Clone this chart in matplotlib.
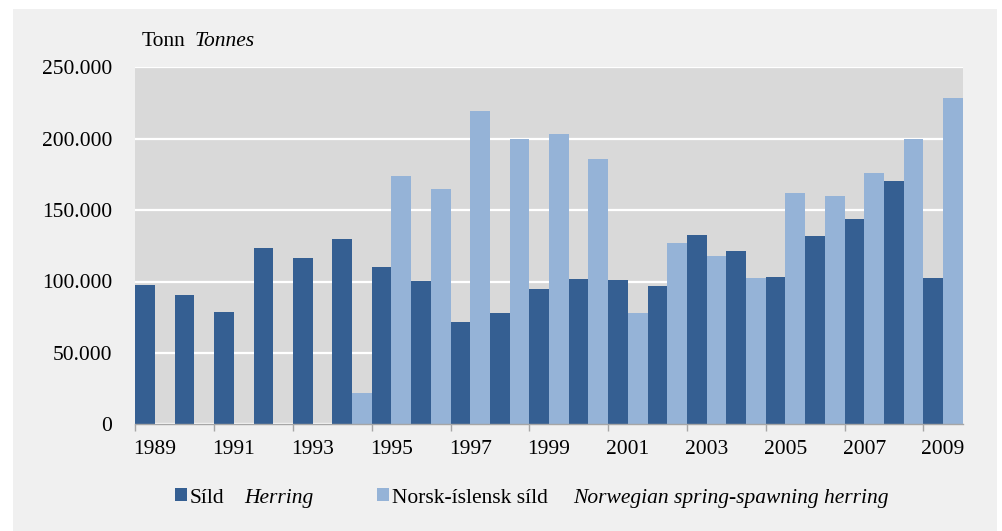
import matplotlib
matplotlib.use("Agg")
import matplotlib.pyplot as plt
import numpy as np
from matplotlib.patches import Rectangle, Patch
from matplotlib.ticker import FuncFormatter, FixedLocator

years = list(range(1989, 2010))
sild = [97.6, 90.6, 78.4, 123.2, 116.7, 130.0, 110.4, 100.6, 71.4, 77.7, 95.0,
        101.8, 101.3, 96.9, 132.3, 121.6, 102.9, 131.6, 144.0, 170.6, 102.2]
norsk = [0, 0, 0, 0, 0, 21.7, 173.9, 164.8, 219.6, 199.8, 203.3,
         185.8, 78.2, 127.2, 118.1, 102.7, 161.8, 159.7, 175.8, 199.8, 228.7]
sild = [v * 1000 for v in sild]
norsk = [v * 1000 for v in norsk]
yticks = [0, 50000, 100000, 150000, 200000, 250000]

DARK = "#355f92"
LIGHT = "#95b3d7"
PLOTBG = "#d9d9d9"
OUTBG = "#f0f0f0"
FONT = "Liberation Serif"
FS = 15.5

plt.rcParams['font.family'] = [FONT, 'DejaVu Serif']

W, H = 1002, 531
fig = plt.figure(figsize=(W / 100, H / 100), dpi=100)
fig.patch.set_facecolor("white")
fig.add_artist(Rectangle((13 / W, 0), (997 - 13) / W, (H - 9) / H,
                         transform=fig.transFigure, facecolor=OUTBG,
                         edgecolor="none", zorder=-10))

def px(x, y):
    return x / W, 1 - y / H

l, t = px(135.3, 67.3)
r, b = px(962.7, 424.3)
ax = fig.add_axes([l, b, r - l, t - b])
ax.set_facecolor(PLOTBG)

x = np.arange(len(years))
ax.bar(x, sild, width=0.5, align="edge", color=DARK, zorder=3, linewidth=0)
ax.bar(x + 0.5, norsk, width=0.5, align="edge", color=LIGHT, zorder=3, linewidth=0)

ax.set_xlim(0, len(years))
ax.set_ylim(0, 250000)
ax.set_yticks(yticks)
ax.yaxis.set_major_formatter(FuncFormatter(lambda v, p: "0" if v == 0 else f"{int(v):,}".replace(",", ".")))
ax.grid(axis="y", color="white", linewidth=1.6, zorder=1)
ax.set_axisbelow(True)

lab_idx = [i for i in range(len(years)) if i % 2 == 0]
ax.set_xticks([i + 0.5 for i in lab_idx])
ax.set_xticklabels([str(years[i]) for i in lab_idx])
ax.xaxis.set_minor_locator(FixedLocator([i for i in range(0, len(years) + 1, 2)]))
ax.tick_params(axis="x", which="major", length=0, pad=11, labelsize=FS)
ax.tick_params(axis="x", which="minor", length=5, color="#a6a6a6", width=1)
ax.tick_params(axis="y", length=0, pad=16.5, labelsize=FS)

for s in ["top", "right", "left"]:
    ax.spines[s].set_visible(False)
ax.spines["bottom"].set_color("#a6a6a6")
ax.spines["bottom"].set_linewidth(1)
ax.spines["bottom"].set_zorder(4)

# y unit label
fig.text(*px(142, 41), "Tonn", fontsize=FS, va="center", ha="left")
fig.text(*px(195, 41), "Tonnes", fontsize=FS, va="center", ha="left", style="italic")

# legend
def one_legend(xpix, color, label):
    leg = fig.legend(handles=[Patch(facecolor=color, edgecolor="none")], labels=[label],
                     loc="center left", bbox_to_anchor=px(xpix, 498),
                     frameon=False, borderpad=0, borderaxespad=0,
                     handlelength=0.55, handleheight=0.55, handletextpad=0.15,
                     fontsize=FS)
    return leg

one_legend(175, DARK, "Síld")
one_legend(377, LIGHT, "Norsk-íslensk síld")
fig.text(*px(244, 498), "Herring", fontsize=FS, va="center", ha="left", style="italic")
fig.text(*px(573, 498), "Norwegian spring-spawning herring", fontsize=FS, va="center", ha="left", style="italic")

fig.savefig("out.png", dpi=100)
